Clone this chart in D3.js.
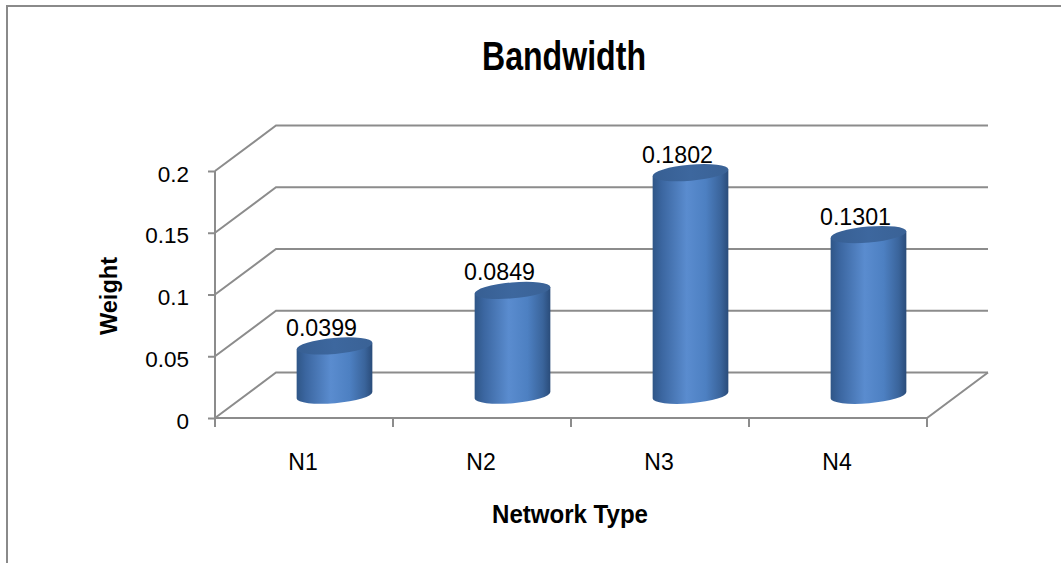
<!DOCTYPE html>
<html>
<head>
<meta charset="utf-8">
<script src="https://cdn.jsdelivr.net/npm/d3@7"></script>
<style>
  html, body { margin: 0; padding: 0; background: #fff; }
  svg { display: block; }
  text { font-family: "Liberation Sans", Arial, sans-serif; fill: #000; }
</style>
</head>
<body>
<svg id="chart" width="1061" height="563"></svg>
<script>
// ---- data ----
const categories = ["N1", "N2", "N3", "N4"];
const values = [0.0399, 0.0849, 0.1802, 0.1301];
const valueLabels = ["0.0399", "0.0849", "0.1802", "0.1301"];
const yTicks = [0, 0.05, 0.1, 0.15, 0.2];
const yTickLabels = ["0", "0.05", "0.1", "0.15", "0.2"];
const chartTitle = "Bandwidth";
const xTitle = "Network Type";
const yTitle = "Weight";

(function () {
// ---- layout ----
const W = 1061, H = 563;
const svg = d3.select("#chart");
const pLeft = 215, pRight = 927, pBottom = 418, pTop = 171;
const DX = 61, DY = -45.5;          // depth offset of the back wall
const gridColor = "#8c8c8c";

const x = d3.scaleBand().domain(categories).range([pLeft, pRight]).paddingInner(0).paddingOuter(0);
const y = d3.scaleLinear().domain([0, 0.2]).range([pBottom, pTop]);

// chart border (top and left visible)
svg.append("line").attr("x1", 6).attr("x2", W).attr("y1", 6).attr("y2", 6)
  .attr("stroke", "#8a8a8a").attr("stroke-width", 2);
svg.append("line").attr("x1", 7).attr("x2", 7).attr("y1", 5).attr("y2", H)
  .attr("stroke", "#8a8a8a").attr("stroke-width", 2);

// title
svg.append("text").attr("x", 564).attr("y", 70).attr("text-anchor", "middle")
  .attr("textLength", 164).attr("lengthAdjust", "spacingAndGlyphs")
  .style("font-size", "41px").style("font-weight", "bold").text(chartTitle);

// gridlines: side wall diagonal + back wall horizontal
const grid = svg.append("g").attr("stroke", gridColor).attr("stroke-width", 2).attr("fill", "none");
yTicks.forEach(t => {
  const yy = y(t);
  grid.append("path").attr("d",
    `M${pLeft},${yy} L${pLeft + DX},${yy + DY} L${pRight + DX},${yy + DY}`);
});
// floor front edge and right diagonal
grid.append("path").attr("d", `M${pLeft},${pBottom} L${pRight},${pBottom} L${pRight + DX},${pBottom + DY}`);
// y axis line
grid.append("line").attr("x1", pLeft).attr("x2", pLeft).attr("y1", y(0.2)).attr("y2", pBottom);

// y axis ticks + labels via d3 axis
const yAxis = d3.axisLeft(y).tickValues(yTicks).tickSize(7).tickPadding(19)
  .tickFormat((d, i) => yTickLabels[i]);
const ya = svg.append("g").attr("transform", `translate(${pLeft},0)`).call(yAxis);
ya.attr("font-family", null).attr("font-size", null);
ya.select(".domain").remove();
ya.selectAll(".tick line").attr("stroke", gridColor).attr("stroke-width", 2);
ya.selectAll(".tick text").style("font-size", "22.5px").attr("fill", "#000").attr("dy", "0.45em");

// x axis ticks (category boundaries) + labels
const xa = svg.append("g");
const bounds = categories.map(c => x(c)).concat([pRight]);
xa.selectAll("line").data(bounds).join("line")
  .attr("x1", d => d).attr("x2", d => d).attr("y1", pBottom).attr("y2", pBottom + 9)
  .attr("stroke", gridColor).attr("stroke-width", 2);
xa.selectAll("text").data(categories).join("text")
  .attr("x", d => x(d) + x.bandwidth() / 2 - 1)
  .attr("y", 470).attr("text-anchor", "middle")
  .style("font-size", "23px").text(d => d);

// axis titles
svg.append("text").attr("x", 570).attr("y", 523).attr("text-anchor", "middle")
  .attr("textLength", 156).attr("lengthAdjust", "spacingAndGlyphs")
  .style("font-size", "25px").style("font-weight", "bold").text(xTitle);
svg.append("text").attr("transform", "translate(117,296) rotate(-90)").attr("text-anchor", "middle")
  .attr("textLength", 78).attr("lengthAdjust", "spacingAndGlyphs")
  .style("font-size", "24px").style("font-weight", "bold").text(yTitle);

// gradients
const defs = svg.append("defs");
const sideGrad = defs.append("linearGradient").attr("id", "side").attr("x1", 0).attr("x2", 1).attr("y1", 0).attr("y2", 0);
[[0, "#2f5687"], [0.12, "#3b66a0"], [0.45, "#5a8ccf"], [0.7, "#4d80c2"], [0.9, "#3a649b"], [1, "#2a4c7a"]]
  .forEach(([o, c]) => sideGrad.append("stop").attr("offset", o).attr("stop-color", c));
const topGrad = defs.append("linearGradient").attr("id", "topg").attr("x1", 0).attr("x2", 1).attr("y1", 0).attr("y2", 0);
[[0, "#375f93"], [0.5, "#3d679e"], [1, "#3a6296"]]
  .forEach(([o, c]) => topGrad.append("stop").attr("offset", o).attr("stop-color", c));

// cylinders
const rx = 38, ry = 8, rot = -5;
const rad = rot * Math.PI / 180;
const ex = rx * Math.cos(rad), ey = rx * Math.sin(rad);
const bars = svg.append("g");
categories.forEach((c, i) => {
  const cx = x(c) + x.bandwidth() / 2 + DX / 2;
  const yb = y(0) + DY / 2;
  const yt = y(values[i]) + DY / 2;
  const lxb = cx - ex, lyb = yb - ey, rxb = cx + ex, ryb = yb + ey;
  const lyt = yt - ey, ryt = yt + ey;
  bars.append("path")
    .attr("d", `M${lxb},${lyt} L${lxb},${lyb} A${rx},${ry} ${rot} 0 0 ${rxb},${ryb} L${rxb},${ryt} Z`)
    .attr("fill", "url(#side)");
  bars.append("ellipse").attr("cx", cx).attr("cy", yt).attr("rx", rx).attr("ry", ry)
    .attr("transform", `rotate(${rot},${cx},${yt})`)
    .attr("fill", "url(#topg)");
  bars.append("text").attr("x", cx - 13).attr("y", yt - 10).attr("text-anchor", "middle")
    .attr("textLength", 71).attr("lengthAdjust", "spacingAndGlyphs")
    .style("font-size", "24px").text(valueLabels[i]);
});
})();
</script>
</body>
</html>
